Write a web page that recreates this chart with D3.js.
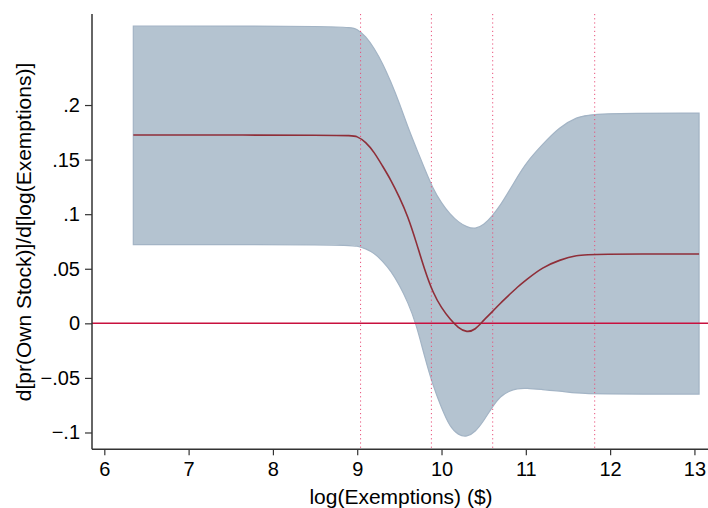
<!DOCTYPE html>
<html>
<head>
<meta charset="utf-8">
<script src="https://cdn.jsdelivr.net/npm/d3@7"></script>
<style>
  body { margin: 0; background: #fff; }
  text { font-family: "Liberation Sans", Arial, sans-serif; fill: #000; }
</style>
</head>
<body>
<svg id="chart" width="708" height="508"></svg>
<script>
// marginal effect of log(exemptions), with confidence band
const xs    = [6.344, 8.9, 9.0, 9.1, 9.2, 9.3, 9.4, 9.5, 9.6, 9.7, 9.8, 9.9, 10.0, 10.1, 10.2, 10.3, 10.4, 10.5, 10.6, 10.7, 10.8, 10.9, 11.0, 11.2, 11.4, 11.6, 11.8, 13.055];
const upper = [.2724, .2724, .2696, .2632, .2522, .2385, .2211, .2019, .1799, .1607, .1414, .1231, .1101, .1000, .0927, .0882, .0863, .0900, .0982, .1083, .1211, .1340, .1468, .1642, .1798, .1889, .1926, .1926];
const mean  = [.1725, .1725, .1716, .1661, .1570, .1441, .1313, .1157, .0983, .0745, .0488, .0277, .0140, .0039, -.0043, -.0084, -.0061, .0030, .0103, .0186, .0259, .0332, .0396, .0515, .0580, .0626, .0635, .0635];
const lower = [.0722, .0722, .0708, .0685, .0644, .0571, .0479, .0351, .0195, -.0006, -.0309, -.0575, -.0776, -.0951, -.1024, -.1042, -.0996, -.0895, -.0767, -.0666, -.0620, -.0597, -.0593, -.0607, -.0620, -.0639, -.0648, -.0648];

const xTicks = [6, 7, 8, 9, 10, 11, 12, 13];
const yTicks = [-.1, -.05, 0, .05, .1, .15, .2];
const yTickLabels = ["\u2212.1", "\u2212.05", "0", ".05", ".1", ".15", ".2"];
const cutoffs = [9.04, 9.88, 10.607, 11.817];

const svg = d3.select("#chart");
const mLeft = 92, mRight = 708, mTop = 14, mBottom = 449.3;

const x = d3.scaleLinear().domain([5.854, 13.161]).range([mLeft, mRight]);
const y = d3.scaleLinear().domain([-.1154, .2834]).range([mBottom, mTop]);

const pts = xs.map((v, i) => ({ x: v, u: upper[i], m: mean[i], l: lower[i] }));

// confidence band
svg.append("path")
    .datum(pts)
    .attr("d", d3.area()
        .curve(d3.curveBasis)
        .x(d => x(d.x))
        .y0(d => y(d.l))
        .y1(d => y(d.u)))
    .attr("fill", "#b4c3d0")
    .attr("stroke", "#a3b4c5")
    .attr("stroke-width", 1.2);

// zero line
svg.append("line")
    .attr("x1", mLeft).attr("x2", mRight)
    .attr("y1", y(0)).attr("y2", y(0))
    .attr("stroke", "#c8103e")
    .attr("stroke-width", 1.5);

// cutoff lines
svg.append("g").selectAll("line")
    .data(cutoffs)
    .enter().append("line")
    .attr("x1", d => x(d)).attr("x2", d => x(d))
    .attr("y1", mTop).attr("y2", mBottom)
    .attr("stroke", "#e8507a")
    .attr("stroke-width", 1)
    .attr("stroke-dasharray", "1.2,3");

// point estimate
svg.append("path")
    .datum(pts)
    .attr("d", d3.line()
        .curve(d3.curveBasis)
        .x(d => x(d.x))
        .y(d => y(d.m)))
    .attr("fill", "none")
    .attr("stroke", "#8f2e38")
    .attr("stroke-width", 1.6);

// axes
const xAxis = svg.append("g")
    .attr("transform", `translate(0,${mBottom})`)
    .call(d3.axisBottom(x).tickValues(xTicks).tickSize(6).tickPadding(7).tickFormat(d3.format("d")));
const yAxis = svg.append("g")
    .attr("transform", `translate(${mLeft},0)`)
    .call(d3.axisLeft(y).tickValues(yTicks).tickSize(7).tickPadding(5)
        .tickFormat((d, i) => yTickLabels[i]));

[xAxis, yAxis].forEach(g => {
    g.select(".domain").attr("stroke", "#333").attr("stroke-width", 1.5);
    g.selectAll(".tick line").attr("stroke", "#333").attr("stroke-width", 1.2);
    g.selectAll("text").style("font-size", "20px").attr("fill", "#000");
});
xAxis.select(".domain").attr("d", `M${mLeft},0H${mRight}`);
yAxis.select(".domain").attr("d", `M0,${mTop}V${mBottom}`);

svg.append("text")
    .attr("x", 401).attr("y", 504)
    .attr("text-anchor", "middle")
    .style("font-size", "21px")
    .text("log(Exemptions) ($)");

svg.append("text")
    .attr("transform", "translate(31,232) rotate(-90)")
    .attr("text-anchor", "middle")
    .style("font-size", "21px")
    .text("d[pr(Own Stock)]/d[log(Exemptions)]");
</script>
</body>
</html>
